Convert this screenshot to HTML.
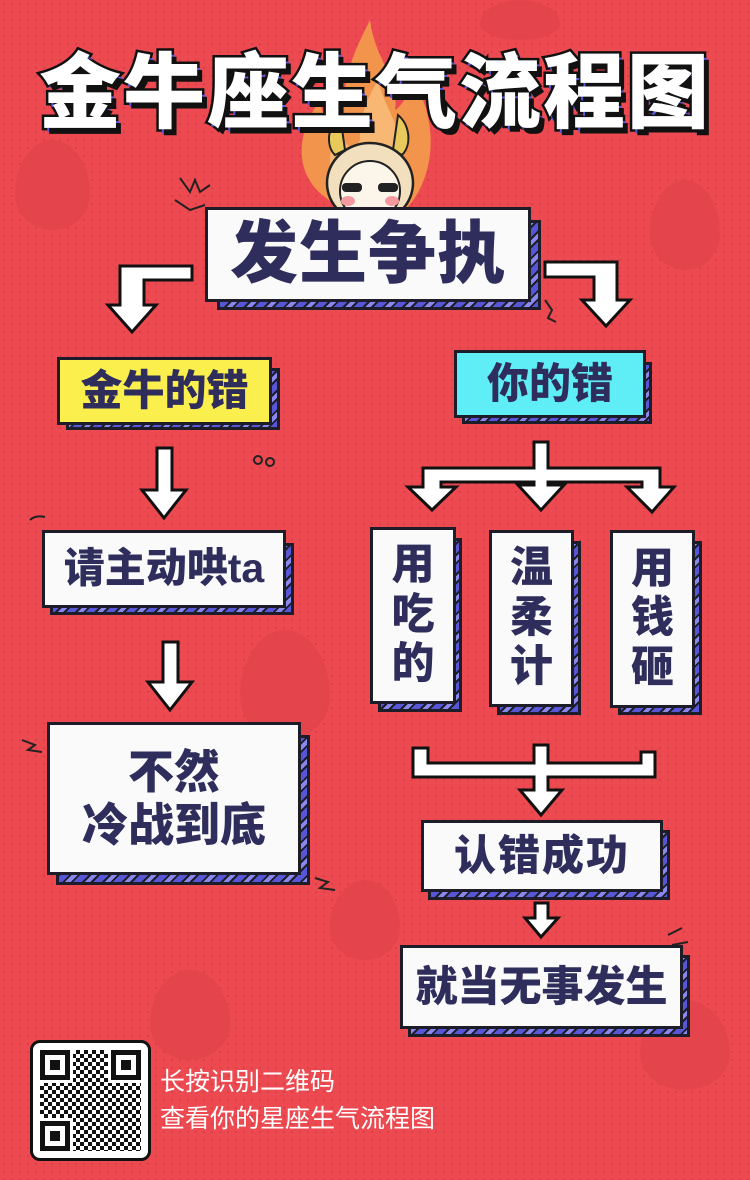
<!DOCTYPE html>
<html><head><meta charset="utf-8"><style>
*{margin:0;padding:0;box-sizing:border-box}
body{width:750px;height:1180px;overflow:hidden;background:#ec4a50;position:relative;font-family:"Liberation Sans","Noto Sans CJK SC",sans-serif}
.bg{position:absolute;inset:0;background-image:radial-gradient(#d8404a 1px,transparent 1.3px);background-size:8px 8px}
.blob{position:absolute;background:#e2434c;border-radius:50% 50% 50% 50%/60% 60% 40% 40%;opacity:.8}
.box{position:absolute;background:#fafafa;border:3px solid #1d1d2a;color:#2e2d5c;font-weight:900;display:flex;align-items:center;justify-content:center;text-align:center;line-height:1.15}
.sh{position:absolute;border:3px solid #1d1d2a;background:repeating-linear-gradient(135deg,#5756d6 0 6px,#1d1d2a 6px 8px,#8a88ef 8px 12px,#1d1d2a 12px 14px)}
.title{position:absolute;left:0;top:26px;width:750px;text-align:center;font-family:"Noto Sans CJK SC",sans-serif;font-weight:900;font-size:82px;letter-spacing:2px;color:#fff;-webkit-text-stroke:5px #111;paint-order:stroke fill;text-shadow:5px 6px 0 #111,3px 4px 0 #5756d6}
.v{flex-direction:column}
</style></head><body>
<div class="bg"></div>
<div class="blob" style="left:15px;top:140px;width:75px;height:90px"></div>
<div class="blob" style="left:650px;top:180px;width:70px;height:90px"></div>
<div class="blob" style="left:480px;top:0;width:80px;height:40px"></div>
<div class="blob" style="left:240px;top:630px;width:90px;height:110px"></div>
<div class="blob" style="left:640px;top:1000px;width:90px;height:90px"></div>
<div class="blob" style="left:150px;top:970px;width:80px;height:90px"></div>
<div class="blob" style="left:330px;top:880px;width:70px;height:80px"></div>

<svg style="position:absolute;left:0;top:0" width="750" height="1180">
<path d="M365 215 C300 200 285 150 320 100 C325 130 335 135 345 120 C340 80 355 50 370 20 C375 60 400 80 395 110 C410 100 410 80 405 70 C440 110 440 180 400 215Z" fill="#f2944b"/>
<path d="M365 210 C330 195 320 160 340 130 C345 150 355 150 360 140 C360 110 370 95 378 80 C385 110 405 130 400 160 C415 180 405 205 385 212Z" fill="#f8b873"/>
<path d="M335 155 C325 145 328 125 340 115 L345 150Z M402 155 C412 145 410 125 398 115 L393 150Z" fill="#e8c95b" stroke="#222" stroke-width="2"/>
<ellipse cx="370" cy="183" rx="43" ry="40" fill="#f2dfbd" stroke="#222" stroke-width="2.5"/>
<ellipse cx="370" cy="191" rx="30" ry="30" fill="#fbf5ea" stroke="#222" stroke-width="2"/>
<rect x="342" y="183" width="20" height="9" rx="4" fill="#222"/><rect x="378" y="183" width="20" height="9" rx="4" fill="#222"/>
<ellipse cx="348" cy="201" rx="7" ry="5" fill="#f29aa0"/><ellipse cx="392" cy="201" rx="7" ry="5" fill="#f29aa0"/>
<g fill="#fff" stroke="#111" stroke-width="3" stroke-linejoin="miter">
<path d="M192 266 L120 266 L120 305 L108 305 L132 332 L156 305 L144 305 L144 280 L192 280Z"/>
<path d="M545 262 L617 262 L617 300 L630 300 L606 326 L582 300 L594 300 L594 277 L545 277Z"/>
<path d="M157 448 L172 448 L172 490 L186 490 L164 518 L142 490 L157 490Z"/>
<path d="M163 642 L178 642 L178 682 L192 682 L170 710 L148 682 L163 682Z"/>
<path d="M534 442 L548 442 L548 468 L660 468 L660 487 L674 487 L652 512 L627 487 L642 487 L642 482 L548 482 L548 485 L564 485 L541 510 L518 485 L534 485 L534 482 L441 482 L441 487 L456 487 L432 510 L408 487 L423 487 L423 468 L534 468Z"/>
<path d="M413 748 L428 748 L428 763 L534 763 L534 745 L548 745 L548 763 L641 763 L641 752 L655 752 L655 777 L548 777 L548 790 L562 790 L541 815 L520 790 L534 790 L534 777 L413 777Z"/>
<path d="M535 903 L548 903 L548 918 L558 918 L541 937 L525 918 L535 918Z"/>
</g>
<g fill="none" stroke="#222" stroke-width="2">
<path d="M180 178 L190 192 L195 180 L200 192 L210 185"/><path d="M175 200 L190 210 L205 205"/>
<path d="M545 300 L552 310 L548 318 L556 322"/><path d="M22 740 L35 745 L28 750 L42 752"/><path d="M315 878 L328 882 L320 888 L335 890"/>
<path d="M30 520 Q35 515 45 517"/><path d="M668 935 L682 928"/><path d="M672 945 L688 942"/>
<circle cx="258" cy="460" r="4"/><circle cx="270" cy="462" r="4"/>
</g>
</svg>

<div class="title">金牛座生气流程图</div>

<div class="sh" style="left:217px;top:220px;width:324px;height:90px"></div>
<div class="box" style="left:205px;top:207px;width:326px;height:95px;font-size:68px;letter-spacing:1px">发生争执</div>

<div class="sh" style="left:66px;top:368px;width:214px;height:62px"></div>
<div class="box" style="left:57px;top:357px;width:215px;height:68px;font-size:42px;background:#fbef4e">金牛的错</div>

<div class="sh" style="left:462px;top:362px;width:190px;height:62px"></div>
<div class="box" style="left:454px;top:350px;width:192px;height:68px;font-size:42px;background:#5fedf6">你的错</div>

<div class="sh" style="left:50px;top:543px;width:244px;height:72px"></div>
<div class="box" style="left:42px;top:530px;width:244px;height:78px;font-size:41px">请主动哄ta</div>

<div class="sh" style="left:56px;top:735px;width:254px;height:150px"></div>
<div class="box v" style="left:47px;top:722px;width:254px;height:153px;font-size:46px"><div>不然</div><div>冷战到底</div></div>

<div class="sh" style="left:378px;top:538px;width:84px;height:174px"></div>
<div class="box v" style="left:370px;top:527px;width:86px;height:177px;font-size:43px"><div>用</div><div>吃</div><div>的</div></div>
<div class="sh" style="left:497px;top:541px;width:84px;height:174px"></div>
<div class="box v" style="left:489px;top:530px;width:85px;height:177px;font-size:43px"><div>温</div><div>柔</div><div>计</div></div>
<div class="sh" style="left:618px;top:541px;width:84px;height:174px"></div>
<div class="box v" style="left:610px;top:530px;width:85px;height:178px;font-size:43px"><div>用</div><div>钱</div><div>砸</div></div>

<div class="sh" style="left:428px;top:830px;width:242px;height:70px"></div>
<div class="box" style="left:421px;top:820px;width:242px;height:72px;font-size:42px;letter-spacing:2px">认错成功</div>

<div class="sh" style="left:408px;top:955px;width:282px;height:82px"></div>
<div class="box" style="left:400px;top:945px;width:283px;height:84px;font-size:42px">就当无事发生</div>

<div style="position:absolute;left:30px;top:1040px;width:121px;height:121px;background:#fff;border:3px solid #111;border-radius:10px;padding:7px">
<div style="width:100%;height:100%;background:repeating-conic-gradient(#111 0 25%,#fff 0 50%) 0 0/8px 8px;position:relative">
<div style="position:absolute;left:0;top:0;width:30px;height:30px;background:#fff;border:5px solid #111;outline:3px solid #fff"><div style="margin:5px;width:10px;height:10px;background:#111"></div></div>
<div style="position:absolute;right:0;top:0;width:30px;height:30px;background:#fff;border:5px solid #111;outline:3px solid #fff"><div style="margin:5px;width:10px;height:10px;background:#111"></div></div>
<div style="position:absolute;left:0;bottom:0;width:30px;height:30px;background:#fff;border:5px solid #111;outline:3px solid #fff"><div style="margin:5px;width:10px;height:10px;background:#111"></div></div>
</div></div>
<div style="position:absolute;left:160px;top:1064px;color:#fff;font-size:25px;line-height:37px">长按识别二维码<br>查看你的星座生气流程图</div>
</body></html>
